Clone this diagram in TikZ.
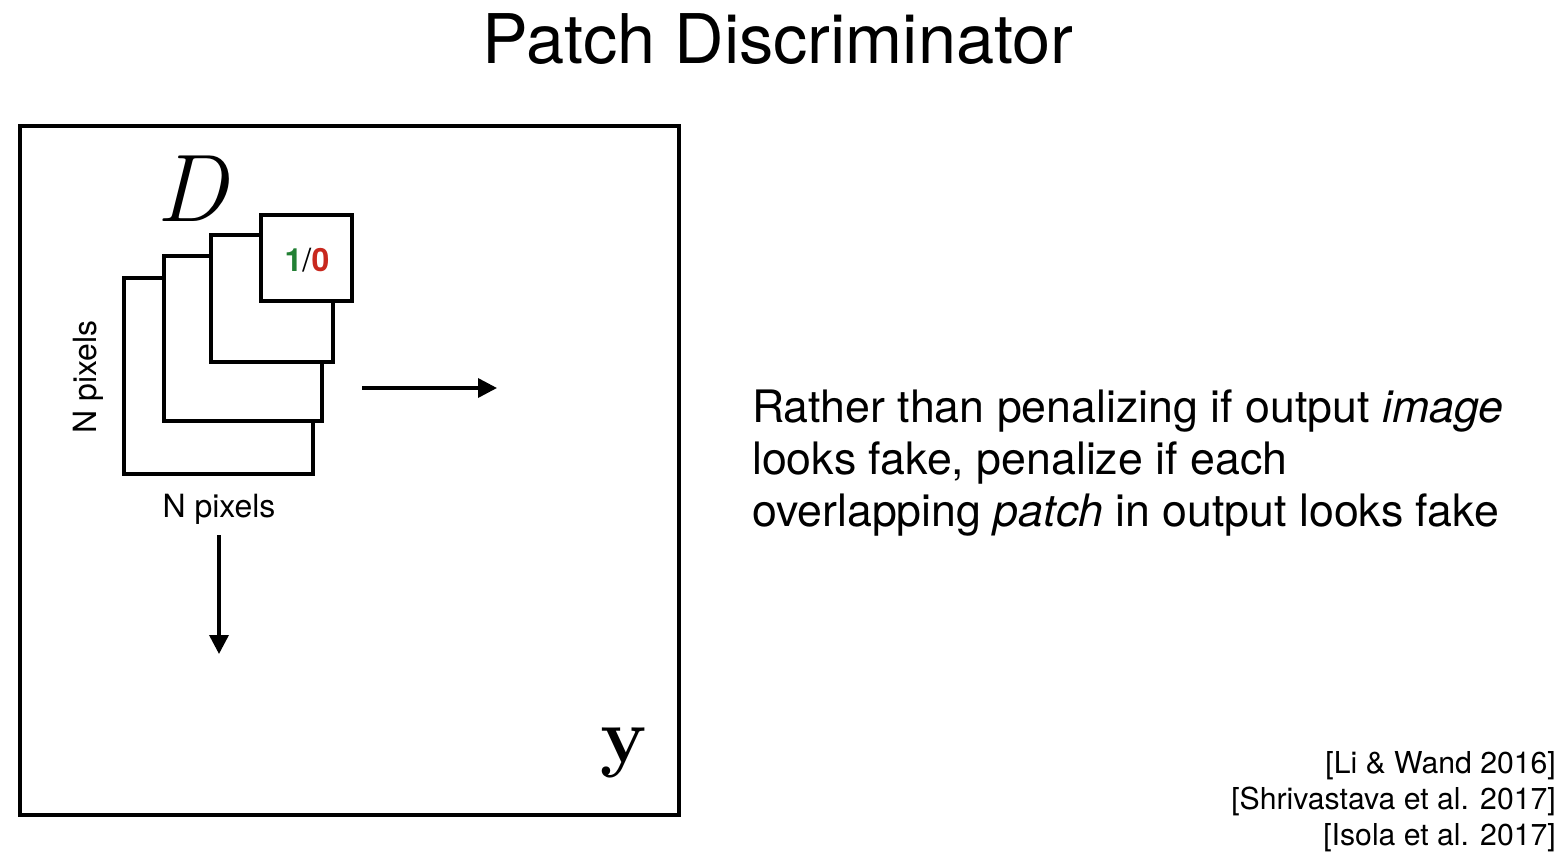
\documentclass[tikz,border=0pt]{standalone}
\usepackage{fontspec}
\setmainfont{TeX Gyre Heros}
\newfontfamily\lmr{Latin Modern Roman}
\usetikzlibrary{arrows.meta}
\definecolor{okgreen}{RGB}{34,128,52}
\definecolor{badred}{RGB}{200,40,30}
\begin{document}
\begin{tikzpicture}[x=1pt,y=-1pt,
  frame/.style={draw=black,line width=3.2pt,fill=white},
  bigarrow/.style={-{Triangle[length=19pt,width=19pt]},line width=3.5pt},
  lbl/.style={inner sep=0pt,font=\fontsize{32}{36}\selectfont}]
\useasboundingbox (0,0) rectangle (1568,864);
\node[inner sep=0pt,anchor=base,font=\fontsize{68.5}{76}\selectfont] (title) at (778,64) {Patch Discriminator};
\draw[frame] (20,126) rectangle (679,815);
\draw[frame] (124,278) rectangle (313,474);
\draw[frame] (164,256) rectangle (322,421);
\draw[frame] (211,235) rectangle (333,362);
\draw[frame] (261,215) rectangle (352,301);
\node[inner sep=0pt,font=\fontsize{32}{36}\selectfont\bfseries] (out) at (307,260) {\textcolor{okgreen}{1}\textmd{/}\textcolor{badred}{0}};
\node[inner sep=0pt,anchor=base,font=\fontsize{96}{100}\selectfont\lmr\itshape] (D) at (192,221) {D};
\node[lbl] (nh) at (219,509) {N pixels};
\node[lbl,rotate=90] (nv) at (88,377) {N pixels};
\coordinate (ra) at (362,388);
\coordinate (rb) at (497,388);
\draw[bigarrow] (ra) -- (rb);
\coordinate (da) at (219,535);
\coordinate (db) at (219,654);
\draw[bigarrow] (da) -- (db);
\node[inner sep=0pt,anchor=base,font=\fontsize{78}{80}\selectfont\lmr\bfseries] (y) at (624,762) {y};
\node[inner sep=0pt,anchor=base west,align=left,font=\fontsize{44.7}{52}\selectfont] (txt) at (752,526)
  {Rather than penalizing if output \textit{image}\\looks fake, penalize if each\\overlapping \textit{patch} in output looks fake};
\node[inner sep=0pt,anchor=base east,align=right,font=\fontsize{30.2}{36}\selectfont] (cite) at (1556,845)
  {{[Li \& Wand 2016]}\\{[Shrivastava et al. 2017]}\\{[Isola et al. 2017]}};
\end{tikzpicture}
\end{document}
